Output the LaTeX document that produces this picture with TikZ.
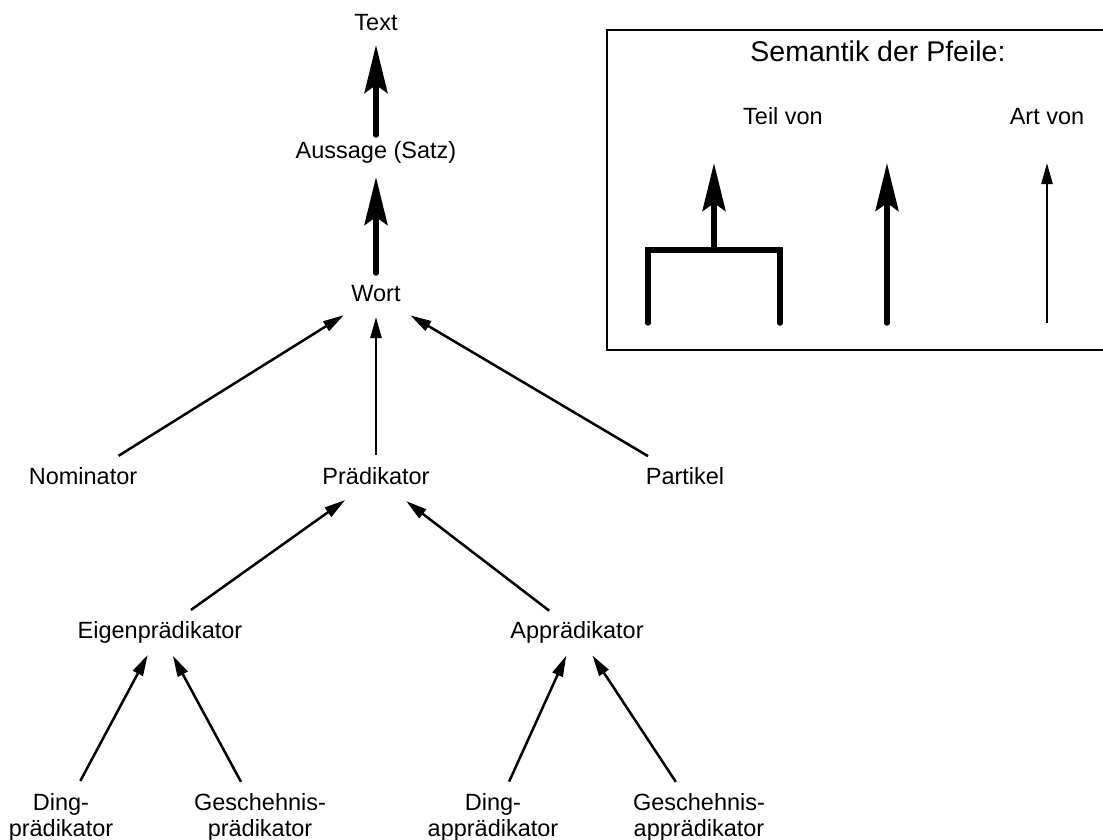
\documentclass[tikz,border=0pt]{standalone}
\usepackage{fontspec}
\setmainfont{Liberation Sans}
\usetikzlibrary{arrows.meta}
\begin{document}
\begin{tikzpicture}[x=1pt,y=-1pt,
  lbl/.style={font=\fontsize{23.5}{26}\selectfont, inner sep=0pt, text height=17pt, text depth=5pt, anchor=base},
  lbltwo/.style={font=\fontsize{23.5}{26}\selectfont, inner sep=0pt, align=center, anchor=center},
  title/.style={font=\fontsize{28.5}{32}\selectfont, inner sep=0pt, anchor=base},
  artarrow/.style={line width=2.5pt, -{Triangle[length=21pt,width=11pt]}},
  teilarrow/.style={line width=5.5pt, line cap=round, -{Stealth[length=48pt,width=23pt,inset=8pt]}},
  teilline/.style={line width=5.5pt, line cap=round, line join=miter},
  frame/.style={line width=2pt}
]
\useasboundingbox (0,0) rectangle (1103,839);

% nodes
\node[lbl] (text) at (376,30) {Text};
\node[lbl] (aussage) at (376,158) {Aussage (Satz)};
\node[lbl] (wort) at (376,301) {Wort};
\node[lbl] (nom) at (83,484) {Nominator};
\node[lbl] (praed) at (376,484) {Prädikator};
\node[lbl] (part) at (685,484) {Partikel};
\node[lbl] (eigen) at (160,638) {Eigenprädikator};
\node[lbl] (app) at (577,638) {Apprädikator};
\node[lbltwo] (ding) at (61,817) {Ding-\\prädikator};
\node[lbltwo] (gesch) at (260,817) {Geschehnis-\\prädikator};
\node[lbltwo] (dingapp) at (493,817) {Ding-\\apprädikator};
\node[lbltwo] (geschapp) at (699,817) {Geschehnis-\\apprädikator};

% connectors
\draw[teilarrow, shorten <=17pt, shorten >=21pt] (aussage.center) -- (text.center);
\draw[teilarrow, shorten <=22pt, shorten >=25pt] (wort.center) -- (aussage.center);
\draw[artarrow, shorten <=23pt, shorten >=22pt] (praed.center) -- (wort.center);
\draw[artarrow, shorten <=42pt, shorten >=38pt] (nom.center) -- (wort.center);
\draw[artarrow, shorten <=43pt, shorten >=40pt] (part.center) -- (wort.center);
\draw[artarrow, shorten <=38pt, shorten >=38pt] (eigen.center) -- (praed.center);
\draw[artarrow, shorten <=35pt, shorten >=38pt] (app.center) -- (praed.center);
\draw[artarrow, shorten <=41pt, shorten >=26pt] (ding.center) -- (eigen.center);
\draw[artarrow, shorten <=40pt, shorten >=27pt] (gesch.center) -- (eigen.center);
\draw[artarrow, shorten <=39pt, shorten >=26pt] (dingapp.center) -- (app.center);
\draw[artarrow, shorten <=42pt, shorten >=28pt] (geschapp.center) -- (app.center);

% legend
\draw[frame] (607,30) rectangle (1120,350);
\node[title] (ltitle) at (878,61) {Semantik der Pfeile:};
\node[lbl] (lteil) at (783,124) {Teil von};
\node[lbl] (lart) at (1047,124) {Art von};

\coordinate (fl) at (648,323);
\coordinate (flc) at (648,250);
\coordinate (frc) at (780,250);
\coordinate (fr) at (780,323);
\coordinate (fj) at (714,250);
\coordinate (ft) at (714,163);
\coordinate (tb) at (887,323);
\coordinate (tt) at (887,163);
\coordinate (ab) at (1047,323);
\coordinate (at) at (1047,163);

\draw[teilline] (fl) -- (flc) -- (frc) -- (fr);
\draw[teilarrow] (fj) -- (ft);
\draw[teilarrow] (tb) -- (tt);
\draw[artarrow] (ab) -- (at);
\end{tikzpicture}
\end{document}
